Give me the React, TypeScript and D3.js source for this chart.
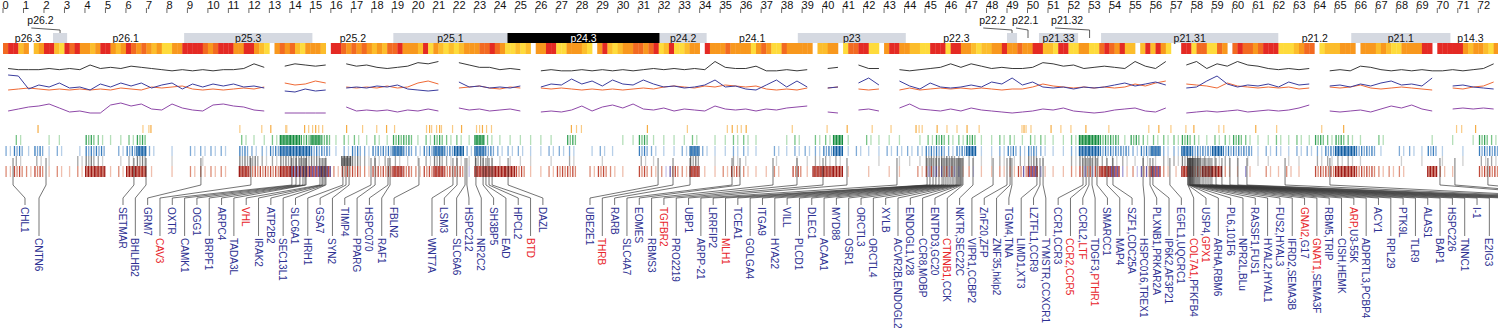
import React from "react";
import * as d3 from "d3";

// ---------------- data ----------------
const axisTickValues = d3.range(0, 73);

const bandNames = ["p26.3","p26.2","p26.1","p25.3","p25.2","p25.1","p24.3","p24.2","p24.1","p23","p22.3","p22.2","p22.1","p21.33","p21.32","p21.31","p21.2","p21.1","p14.3"];
const bandStarts = [0, 2.44, 3.13, 8.84, 15.10, 19.05, 24.62, 32.05, 34.34, 38.79, 44.06, 49.00, 49.49, 50.56, 52.47, 53.59, 62.24, 65.80, 70.64];
const bandEnds = [2.44, 3.13, 8.84, 15.10, 19.05, 24.62, 32.05, 34.34, 38.79, 44.06, 49.00, 49.49, 50.56, 52.47, 53.59, 62.24, 65.80, 70.64, 72.6];
const bandStains = ["gneg","gpos","gneg","gpos","gneg","gpos","gpos100","gpos","gneg","gpos","gneg","gpos","gneg","gpos","gneg","gpos","gneg","gpos","gneg"];

// heat strip: one string per Mb, 4 bins of 0.25 Mb, level 0 (none) .. 5 (red)
const heatLevels = [
  "4552","3023","5521","5453","3235","5323","5434","3231","1335","5554",
  "3455","5335","5321","0343","4213","3320","5543","4343","2324","4533",
  "3251","3212","1233","3445","4311","2120","3355","1133","3210","3521",
  "2334","4345","1251","1233","0533","3433","3313","4311","4333","3302",
  "2330","1445","5110","3553","3221","1555","1553","3212","2335","3343",
  "3552","2155","1133","1145","4352","2025","2531","0055","1441","1430",
  "4544","3455","5111","2344","0122","2333","0333","2321","1333","3550",
  "5555","5323","3213"
];

// line tracks, one value per 0.5 Mb
const blackTrack = [3,2,2,2,3,2,3,2,6,3, 4,3,5,4,3,2,1,2,1,2, 1,2,2,3,7,4,null,5,7,6, 5,6,null,7,5,6,4,3,4,5, 8,7,9,null,8,6,4,4,2,3, 2,null,1,2,1,1,2,1,2,1, 2,1,2,3,2,3,2,3,2,9, 4,3,3,5,1,1,2,1,2,null, 3,4,null,6,3,3,null,2,1,2, 3,4,7,4,7,5,3,4,3,3, 4,8,7,5,6,3,4,5,4,3, 9,5,3,9,null,6,9,3,7,5, 9,6,5,3,2,3,2,3,null,1, 2,1,5,4,2,1,2,1,2,1, 1,2,1,2,3,7];
const blueTrack = [18,17,4,8,6,10,5,6,3,9, 6,10,7,10,5,8,10,4,9,6, 9,7,9,6,7,5,null,2,1,4, 2,3,null,5,6,5,7,6,8,4, 3,2,3,null,11,6,7,5,6,5, 7,null,6,9,8,14,9,12,7,13, 9,8,13,9,6,7,5,6,8,13, 6,7,4,3,8,13,6,12,6,null, 5,6,null,10,15,8,null,12,7,4, 10,6,5,6,8,6,11,9,15,8, 11,6,5,6,4,6,5,6,8,10, 7,9,11,8,null,5,6,12,17,9, 6,8,7,9,6,11,8,9,null,7, 8,6,9,7,10,12,8,9,7,15, null,7,8,6,5,4];
const orangeTrack = [3,4,5,4,3,4,3,4,3,4, 3,5,4,3,6,5,6,7,4,3, 4,3,4,5,4,6,null,10,8,9, 12,10,null,6,5,6,5,7,5,6, 10,12,9,null,5,6,7,5,4,6, 5,null,5,4,5,4,3,4,3,4, 3,4,5,4,6,7,6,5,7,6, 8,7,6,7,4,3,4,3,5,null, 5,6,null,4,3,4,null,3,5,3, 4,5,4,5,4,5,4,3,4,4, 6,9,7,6,5,6,5,6,5,6, 9,7,10,12,null,9,8,7,5,10, 7,6,5,6,5,6,4,5,null,6, 5,6,8,5,4,5,6,5,4,3, null,5,4,6,7,11];
const purpleTrack = [3,5,7,8,10,6,2,3,1,1, 9,11,8,10,5,4,10,6,4,3, 9,10,8,7,4,3,null,1,1,1, 1,1,null,7,3,4,3,4,2,4, 3,5,3,null,6,4,5,3,4,5, 3,null,2,3,2,4,8,3,7,9, 6,10,5,4,6,3,5,4,3,8, 5,4,5,3,5,4,6,7,8,null, 2,1,null,4,5,3,null,6,10,5, 4,3,5,3,6,4,3,2,1,2, 3,5,4,6,3,2,1,2,4,5, 6,3,2,6,null,1,2,3,2,3, 4,2,3,4,3,4,6,9,null,3, 2,3,4,2,5,8,6,9,5,3, null,5,6,5,6,5];

// feature rows
const orangeTicksMb = [1.71,6.83,7.12,7.22,11.56,12.63,13.07,13.80,13.85,14.72,14.92,15.11,15.26,15.41,15.60,16.77,17.55,18.24,18.72,19.11,20.67,20.82,20.92,21.16,21.31,21.40,21.94,22.38,23.11,23.26,23.40,23.60,23.84,27.74,27.99,28.23,31.45,33.40,35.35,35.59,35.84,36.03,36.27,38.52,40.22,41.20,42.42,43.34,44.56,44.71,44.86,45.59,46.07,46.56,47.05,47.64,49.73,49.83,49.93,50.17,51.15,51.63,52.12,52.85,53.97,55.92,56.41,57.00,57.73,58.12,59.34,59.58,61.14,62.16,64.36,65.43,70.94,71.19,71.87];
// density per 0.5 Mb bin, 0..4
const greenRow = ["0200110032","1123000000","0002112443","4312212133","1232214211","1111030000","1131111201","1221001202","2410211101","2322311221","2211244331","3222232122","3211212132","3210200001","010132"];
const blueRow = ["2313120133","0234201022","2203223444","3312323343","2343424322","2112220121","0032112421","1221021222","3412112222","3323411232","3211244333","2342243343","3312212223","4433102213","101033"];
const grayRow = ["0202100232","0123001001","0003322333","3104322221","1232213211","1101020010","0021000301","0210010112","2200010111","3332211222","3100233222","1212233222","1111011022","2210001010","101022"];
const redRow = ["2323121244","1244101022","2204333444","4423323343","2343314444","3112330232","1032232411","2321120314","4410101102","3332211223","4211233442","2342143442","1202121033","4433222004","210033"];
const purpleTintRanges = [[14.1,16.0],[22.5,22.8],[32.2,32.6],[44.7,47.6],[49.6,51.2],[52.8,53.3],[54.0,56.5],[60.5,60.8]];

// gene labels
const geneLabels = ["CHL1","CNTN6","SETMAR","BHLHB2","GRM7","CAV3","OXTR","CAMK1","OGG1","BRPF1","ARPC4","TADA3L","VHL","IRAK2","ATP2B2","SEC13L1","SLC6A1","HRH1","GSA7","SYN2","TIMP4","PPARG","HSPC070","RAF1","FBLN2",
  "WNT7A","LSM3","SLC6A6","HSPC212","NR2C2","SH3BP5","EAD","HPCL2","BTD","DAZL",
  "UBE2E1","THRB","RARB","SLC4A7","EOMES","RBMS3","TGFBR2","PRO2219","UBP1","ARPP-21","LRRFIP2","MLH1","TCEA1","GOLGA4","ITGA9","HYA22","VILL","PLCD1","DLEC1","ACAA1","MYD88","OSR1","ORCTL3","ORCTL4","XYLB","ACVR2B,ENDOGL2","ENDOGL1,V28","CCR8,MOBP","ENTPD3,GC20","CTNNB1,CCK","NKTR,SEC22C","VIPR1,CCBP2","ZnF20,ZFP","ZNF35,hklp2","TGM4,TNA","LIMD1,XT3","LZTFL1,CCR9","TYMSTR,CCXCR1","CCR1,CCR3","CCR2,CCR5","CCRL2,LTF","TDGF3,PTHR1","SMARCC1","MAP4","SZF1,CDC25A","HSPC016,TREX1","PLXNB1,PRKAR2A","IP6K2,AF3P21","EGFL1,UQCRC1","COL7A1,PFKFB4","USP4,GPX1","ARHA,RBM6","PL6,101F6","NPR2L,BLu","RASSF1,FUS1","HYAL2,HYAL1","FUS2,HYAL3","IFRD2,SEMA3B","GNAI2,G17","GNAT1,SEMA3F","RBM5,TRIP","CISH,HEMK","ARP,U3-55K","ADPRTL3,PCBP4","ACY1","RPL29","PTK9L","TLR9","ALAS1","BAP1","HSPC226","TNNC1","I-1","E2IG3",
  "","","","","","","","","","",""];
const geneMb = [0.49,2.10,6.39,6.98,9.66,12.10,14.10,14.30,14.49,14.64,14.74,14.79,15.47,15.57,15.62,15.71,15.76,16.59,16.74,16.89,17.96,18.16,18.79,18.89,20.30,
  21.96,22.16,22.55,22.64,23.08,23.43,23.57,23.72,23.87,24.65,
  31.97,32.70,33.53,35.58,35.97,37.58,38.75,40.02,41.19,43.63,45.10,45.24,45.39,45.53,45.68,45.83,45.92,46.02,46.12,46.22,46.32,46.41,46.51,46.56,46.61,46.66,46.71,46.75,46.80,46.85,47.34,48.32,49.00,49.15,49.24,50.46,50.61,50.76,52.71,52.86,53.00,53.15,53.39,53.88,54.17,55.64,55.98,56.12,56.95,57.83,57.83,57.88,57.88,57.93,57.93,57.93,57.98,57.98,58.03,58.03,58.08,58.08,58.13,58.17,58.22,58.27,58.32,58.37,58.42,58.52,58.61,58.71,58.81,58.91,
  59.00,59.20,59.49,59.88,60.27,60.71,62.57,64.76,70.13,70.86,72.47];
// label blocks: [start (Mb), number of labels, row of first label]
const labelBlocks = [[1.074,1,0],[1.757,1,1],[5.857,23,0],[20.937,10,1],[28.648,85,0]];
const highlighted = ["CAV3","VHL","BTD","THRB","TGFBR2","MLH1","CTNNB1","CCR2","CCR5","LTF","PTHR1","COL7A1","GPX1","GNAI2","GNAT1","ARP"];

// ---------------- styles / layout ----------------
const W = 1498, H = 331;
const FONT = "'Liberation Sans', Arial, Helvetica, sans-serif";
const heatColors = ["#ffffff","#fedb3c","#fcbd2c","#f8981e","#f26a22","#e42a24"];
const rowPalettes = {
  green: ["", "#b5dfb9", "#79c487", "#3aa35b", "#138a3f"],
  blue: ["", "#b7cfe8", "#7faad6", "#3b7dbd", "#135e9f"],
  gray: ["", "#cfcfcf", "#a6a6a6", "#7d7d7d", "#555555"],
  red: ["", "#efbfae", "#dc8c77", "#c04b3b", "#9e1b17"],
  purple: ["", "#c9c5ea", "#9f98d3", "#6e5fae", "#4f2f7c"],
};
const tickOffsets = [[], [0.5], [0.3, 0.72], [0.12, 0.37, 0.62, 0.87], [0.07, 0.21, 0.35, 0.5, 0.64, 0.78, 0.93]];
const LABEL_SPACING = 12.32;

export default function App() {
  const x = d3.scaleLinear().domain([0, 72]).range([3, 3 + 72 * 20.49]);

  const yBlack = d3.scaleLinear().domain([0, 12]).range([72, 58]);
  const yBO = d3.scaleLinear().domain([0, 20]).range([93, 73]);
  const yPurple = d3.scaleLinear().domain([0, 12]).range([114, 102]);

  const mkLine = (ys: d3.ScaleLinear<number, number>) =>
    d3.line<number | null>()
      .defined((d) => d !== null)
      .x((_, i) => x(i * 0.5 + 0.25))
      .y((d) => ys(d as number));

  const heatBins: number[] = heatLevels.join("").split("").map(Number);

  const rowTicks = (rows: string[], y0: number, y1: number, pal: string, tint: boolean) => {
    const levels = rows.join("").split("").map(Number);
    const out: JSX.Element[] = [];
    levels.forEach((L, i) => {
      if (!L) return;
      const mb = i * 0.5;
      tickOffsets[L].forEach((o, k) => {
        const pos = mb + o * 0.5;
        const inTint = tint && (k + i) % 2 === 1 && purpleTintRanges.some(([a, b]) => pos >= a && pos <= b);
        const p = (rowPalettes as any)[inTint ? "purple" : pal];
        const lvl = k % 2 === 0 ? L : Math.max(1, L - 1);
        out.push(
          <rect key={`${pal}-${i}-${k}`} x={x(pos) - 0.65} y={y0} width={1.3} height={y1 - y0} fill={p[lvl]} />
        );
      });
    });
    return out;
  };

  const slots: { lx: number; row: number }[] = [];
  labelBlocks.forEach(([s, n, r]) => {
    for (let k = 0; k < n; k++) slots.push({ lx: x(s) + k * LABEL_SPACING, row: (r + k) % 2 });
  });

  const bands = bandNames.map((name, i) => {
    const x0 = x(bandStarts[i]);
    const x1 = x(bandEnds[i]);
    return { name, x0, x1, stain: bandStains[i], cx: (x0 + x1) / 2, tw: name.length * 5.75 };
  });
  let prevEnd = -100;
  const raised: { name: string; tx: number; cx: number }[] = [];
  bands.forEach((b) => {
    if (b.x1 - b.x0 < b.tw + 2) {
      let tx = b.cx - b.tw - 4;
      if (tx < prevEnd + 4) tx = prevEnd + 4;
      prevEnd = tx + b.tw;
      raised.push({ name: b.name, tx, cx: b.cx });
    }
  });

  const yLead0 = 158, yLead1 = 185, yLead2 = 198;
  const textTop = [207, 238];
  const leadEnd = [205, 236];

  return (
    <svg width={W} height={H} style={{ position: "absolute", left: 0, top: 0, background: "#fff" }} fontFamily={FONT}>
      <g>
        {axisTickValues.map((t) => (
          <g key={t}>
            <line x1={x(t)} x2={x(t)} y1={8} y2={13} stroke="#444" strokeWidth={0.8} />
            <text x={x(t) - 0.5} y={8.5} fontSize={11} fill="#111">{t}</text>
          </g>
        ))}
      </g>

      {raised.map((r) => (
        <g key={r.name}>
          <polyline points={`${Math.min(r.tx + 4, r.cx)},28 ${r.cx},30 ${r.cx},38`} fill="none" stroke="#333" strokeWidth={0.8} />
          <text x={r.tx} y={24} fontSize={10.5} fill="#111">{r.name}</text>
        </g>
      ))}

      {bands.map((b) =>
        b.stain === "gneg" ? null : (
          <rect key={b.name} x={b.x0} y={33} width={b.x1 - b.x0} height={10}
            fill={b.stain === "gpos100" ? "#000" : "#d5d9e1"} />
        )
      )}
      {bands.filter((b) => !(b.x1 - b.x0 < b.tw + 2)).map((b) => (
        <text key={b.name} x={b.cx} y={41.8} textAnchor="middle" fontSize={10.5}
          fill={b.stain === "gpos100" ? "#fff" : "#111"}>{b.name}</text>
      ))}

      {heatBins.map((v, i) =>
        v === 0 ? null : (
          <rect key={i} x={x(i * 0.25)} y={43} width={x(0.25) - x(0) + 0.3} height={11} fill={heatColors[v]} />
        )
      )}

      <path d={mkLine(yBlack)(blackTrack) || ""} fill="none" stroke="#222" strokeWidth={0.9} />
      <path d={mkLine(yBO)(orangeTrack) || ""} fill="none" stroke="#ef6a36" strokeWidth={1} />
      <path d={mkLine(yBO)(blueTrack) || ""} fill="none" stroke="#3b3d9e" strokeWidth={1} />
      <path d={mkLine(yPurple)(purpleTrack) || ""} fill="none" stroke="#8e48a8" strokeWidth={1} />

      {orangeTicksMb.map((m, i) => (
        <rect key={`o${i}`} x={x(m) - 0.6} y={125} width={1.2} height={8} fill={i % 3 === 0 ? "#f5ad45" : "#f9cb86"} />
      ))}
      {rowTicks(greenRow, 135, 145, "green", false)}
      {rowTicks(blueRow, 146, 156, "blue", false)}
      {rowTicks(grayRow, 156, 166, "gray", false)}
      {rowTicks(redRow, 166, 177, "red", true)}

      <g fill="none" stroke="#3a3a3a" strokeWidth={0.7}>
        {geneMb.map((m, i) => {
          const gx = x(m);
          const s = slots[i];
          return (
            <polyline key={`l${i}`}
              points={`${gx},${yLead0} ${gx},${yLead1} ${s.lx},${yLead2} ${s.lx},${leadEnd[s.row]}`} />
          );
        })}
      </g>

      {geneLabels.map((name, i) => {
        if (!name) return null;
        const s = slots[i];
        const parts = name.split(",");
        return (
          <text key={`t${i}`} transform={`translate(${s.lx},${textTop[s.row]}) rotate(90)`}
            fontSize={10} dominantBaseline="central">
            {parts.map((p, k) => (
              <tspan key={k} fill={highlighted.includes(p) ? "#e8262b" : "#2e3192"}>
                {p}{k < parts.length - 1 ? "," : ""}
              </tspan>
            ))}
          </text>
        );
      })}
    </svg>
  );
}
